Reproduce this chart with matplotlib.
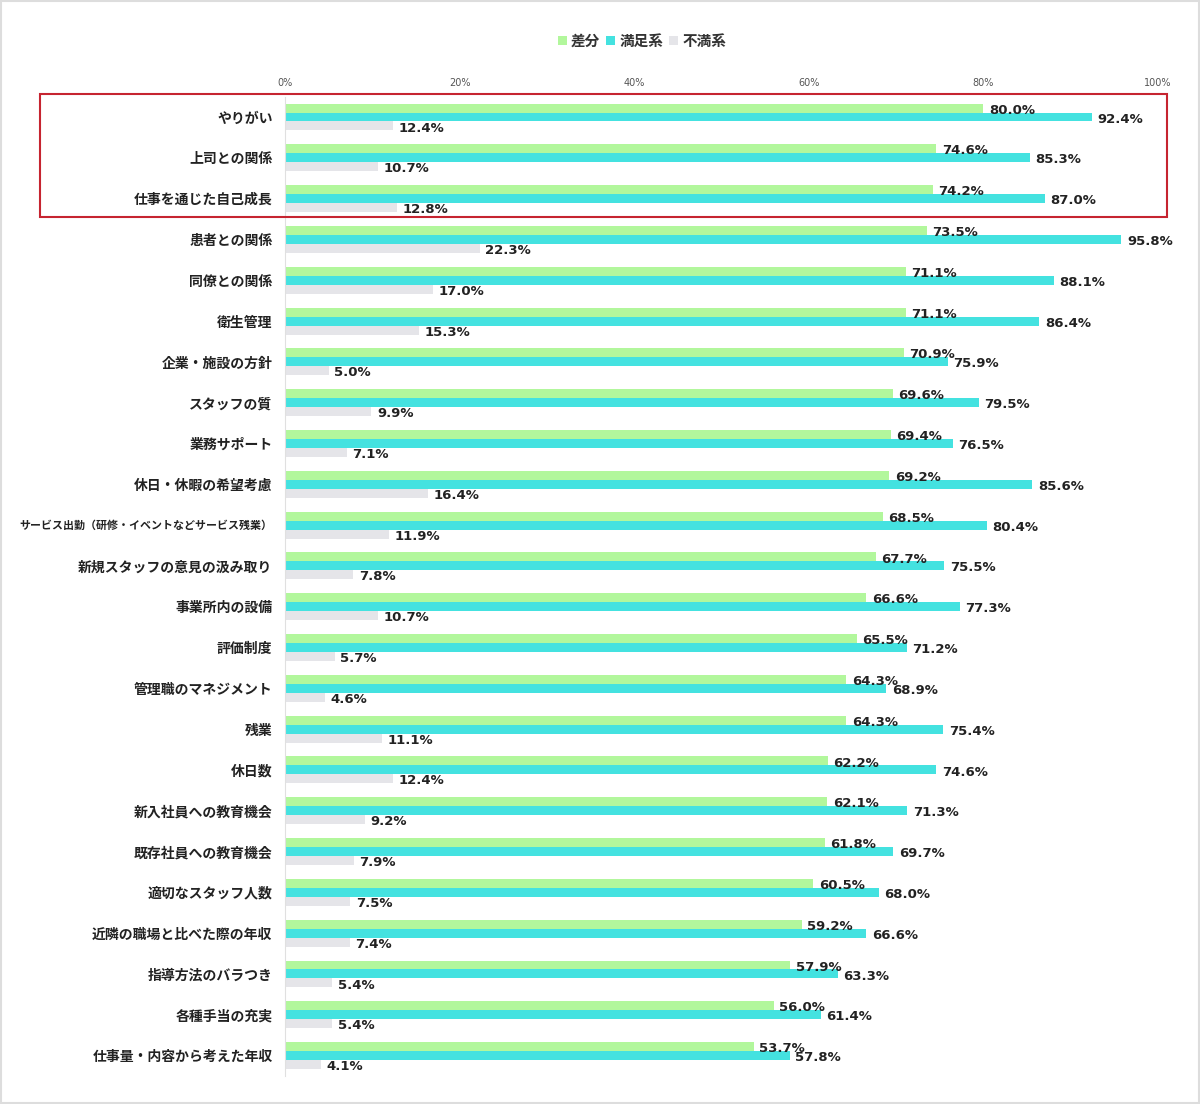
import numpy as np
import matplotlib.pyplot as plt
from matplotlib.patches import Rectangle

categories = ['やりがい', '上司との関係', '仕事を通じた自己成長', '患者との関係', '同僚との関係',
              '衛生管理', '企業・施設の方針', 'スタッフの質', '業務サポート', '休日・休暇の希望考慮',
              'サービス出勤（研修・イベントなどサービス残業）', '新規スタッフの意見の汲み取り',
              '事業所内の設備', '評価制度', '管理職のマネジメント', '残業', '休日数',
              '新入社員への教育機会', '既存社員への教育機会', '適切なスタッフ人数',
              '近隣の職場と比べた際の年収', '指導方法のバラつき', '各種手当の充実',
              '仕事量・内容から考えた年収']
diff = [80.0, 74.6, 74.2, 73.5, 71.1, 71.1, 70.9, 69.6, 69.4, 69.2, 68.5, 67.7,
        66.6, 65.5, 64.3, 64.3, 62.2, 62.1, 61.8, 60.5, 59.2, 57.9, 56.0, 53.7]
satisfied = [92.4, 85.3, 87.0, 95.8, 88.1, 86.4, 75.9, 79.5, 76.5, 85.6, 80.4, 75.5,
             77.3, 71.2, 68.9, 75.4, 74.6, 71.3, 69.7, 68.0, 66.6, 63.3, 61.4, 57.8]
dissatisfied = [12.4, 10.7, 12.8, 22.3, 17.0, 15.3, 5.0, 9.9, 7.1, 16.4, 11.9, 7.8,
                10.7, 5.7, 4.6, 11.1, 12.4, 9.2, 7.9, 7.5, 7.4, 5.4, 5.4, 4.1]
ticks = [0, 20, 40, 60, 80, 100]

jp = ['Noto Sans CJK JP', 'DejaVu Sans']
c_diff = '#b2f79c'
c_sat = '#44e2e0'
c_dis = '#e5e5e9'

fig = plt.figure(figsize=(12, 11.04), dpi=100)
ax = fig.add_axes([285 / 1200, 1 - 1076 / 1104, (1158 - 285) / 1200, (1076 - 96.6) / 1104])

y = np.arange(len(categories))
h = 0.22
series = [(diff, c_diff, -h, '差分'), (satisfied, c_sat, 0, '満足系'), (dissatisfied, c_dis, h, '不満系')]
for vals, col, off, name in series:
    ax.barh(y + off, vals, height=h, color=col, label=name)
    for yi, v in zip(y, vals):
        ax.annotate(f'{v:.1f}%', (v, yi + off), xytext=(4, -1.5), textcoords='offset points',
                    ha='left', va='center', fontsize=9.5, fontweight='bold', color='#222222',
                    family='DejaVu Sans')

ax.set_xlim(0, 100)
ax.set_ylim(len(categories) - 0.5, -0.5)
ax.set_yticks(y)
ax.set_yticklabels(categories, family=jp, fontsize=10, fontweight='bold', color='#222222')
# the long label gets a smaller size so it fits inside the picture
for lab in ax.get_yticklabels():
    if len(lab.get_text()) > 15:
        lab.set_fontsize(7.9)
ax.set_xticks(ticks)
ax.set_xticklabels([f'{t}%' for t in ticks], fontsize=7, color='#555555')
ax.xaxis.tick_top()
ax.tick_params(axis='x', length=0, pad=6)
ax.tick_params(axis='y', length=0, pad=9)
for s in ['top', 'right', 'bottom']:
    ax.spines[s].set_visible(False)
ax.spines['left'].set_color('#e0e0e0')

leg = fig.legend(loc='center', bbox_to_anchor=(0.535, 1 - 41 / 1104), ncol=3, frameon=False,
                 handlelength=0.6, handleheight=0.6, handletextpad=0.3, columnspacing=0.4,
                 prop={'family': jp, 'size': 10.5, 'weight': 'bold'})
for t in leg.get_texts():
    t.set_color('#333333')

# red box round the top three rows
fig.patches.append(Rectangle((40 / 1200, 1 - 217 / 1104), 1127 / 1200, 123 / 1104,
                             transform=fig.transFigure, fill=False, edgecolor='#c62430', lw=1.5))
# thin frame round the picture
fig.patches.append(Rectangle((0.001, 0.001), 0.998, 0.998, transform=fig.transFigure,
                             fill=False, edgecolor='#dddddd', lw=1.5))

fig.savefig('out.png', dpi=100)
